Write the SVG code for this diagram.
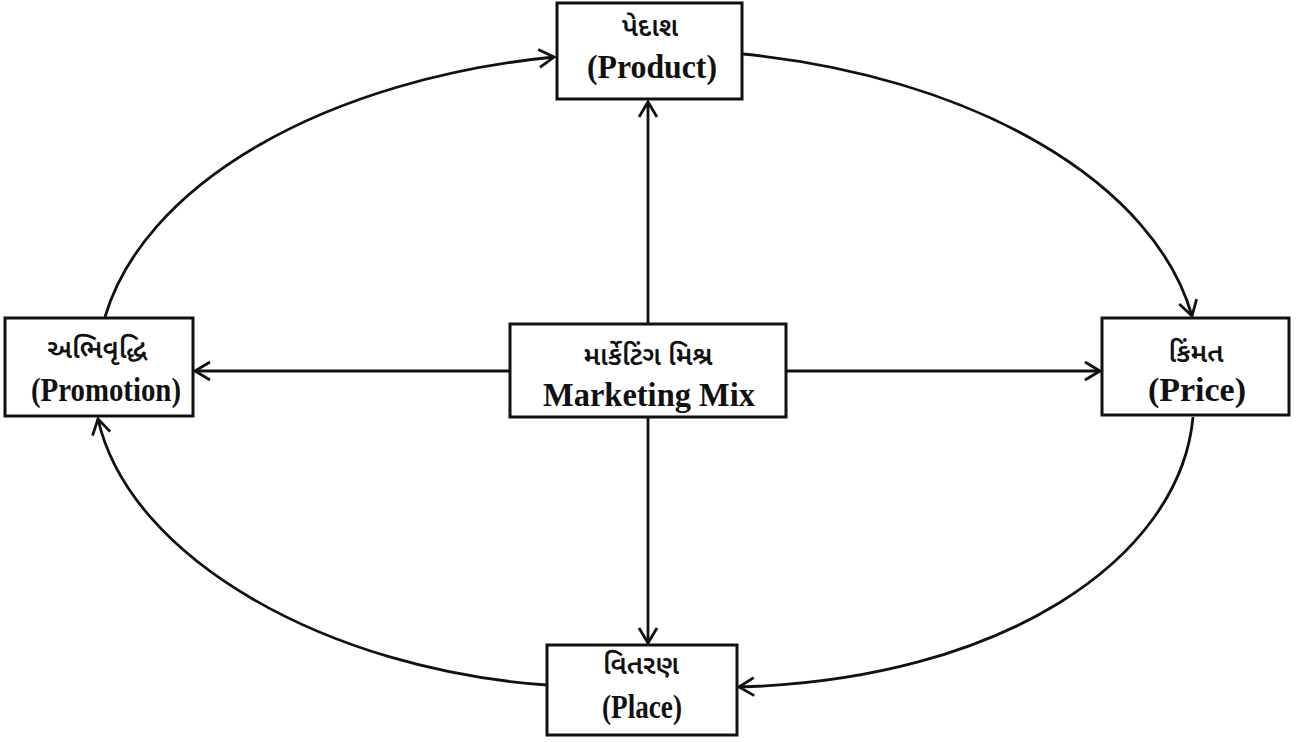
<svg xmlns="http://www.w3.org/2000/svg" width="1301" height="742" viewBox="0 0 1301 742">
<style>
.box{fill:#fff;stroke:#111;stroke-width:3}
.gu{font-family:"Noto Sans Gujarati","Noto Sans","DejaVu Sans",sans-serif;font-size:27px;font-weight:600;fill:#111;text-anchor:middle}
.en{font-family:"Liberation Serif","Times New Roman",serif;font-size:34px;font-weight:bold;fill:#111;text-anchor:middle}
.ln{fill:none;stroke:#111;stroke-width:2.8}
</style>
<defs>
<marker id="ah" markerUnits="userSpaceOnUse" markerWidth="30" markerHeight="30" viewBox="-20 -15 30 30" refX="0" refY="0" orient="auto">
<path d="M-15,-9 L0,0 L-15,9" fill="none" stroke="#111" stroke-width="2.8"/>
</marker>
</defs>
<rect width="1301" height="742" fill="#fff"/>
<g id="connectors">
<line class="ln" x1="648" y1="324" x2="648" y2="102" marker-end="url(#ah)"/>
<line class="ln" x1="648" y1="417" x2="648" y2="643" marker-end="url(#ah)"/>
<line class="ln" x1="510" y1="371" x2="195" y2="371" marker-end="url(#ah)"/>
<line class="ln" x1="786" y1="371" x2="1100" y2="371" marker-end="url(#ah)"/>
<path class="ln" d="M105,317 A550,318 0 0 1 554,57" marker-end="url(#ah)"/>
<path class="ln" d="M743,54 A550,318 0 0 1 1192,316" marker-end="url(#ah)"/>
<path class="ln" d="M1193,417 C1180,560 1000,680 739,687" marker-end="url(#ah)"/>
<path class="ln" d="M547,685 C330,670 130,560 98,419" marker-end="url(#ah)"/>
</g>
<g id="product">
<rect class="box" x="557" y="3" width="185" height="96"/>
<text class="gu" x="650" y="36">પેદાશ</text>
<text class="en" x="652" y="78" textLength="130" lengthAdjust="spacingAndGlyphs">(Product)</text>
</g>
<g id="promotion">
<rect class="box" x="5" y="318" width="188" height="98"/>
<text class="gu" x="97" y="358">અભિવૃદ્ધિ</text>
<text class="en" x="106" y="401" textLength="150" lengthAdjust="spacingAndGlyphs">(Promotion)</text>
</g>
<g id="marketing-mix">
<rect class="box" x="510" y="324" width="276" height="93"/>
<text class="gu" x="648" y="365" font-size="26">માર્કેટિંગ મિશ્ર</text>
<text class="en" x="649" y="406" textLength="212" lengthAdjust="spacingAndGlyphs">Marketing Mix</text>
</g>
<g id="price">
<rect class="box" x="1102" y="318" width="187" height="97"/>
<text class="gu" x="1196" y="362">કિંમત</text>
<text class="en" x="1197" y="401" textLength="98" lengthAdjust="spacingAndGlyphs">(Price)</text>
</g>
<g id="place">
<rect class="box" x="547" y="645" width="190" height="90"/>
<text class="gu" x="641" y="674">વિતરણ</text>
<text class="en" x="642" y="718" textLength="80" lengthAdjust="spacingAndGlyphs">(Place)</text>
</g>
</svg>
